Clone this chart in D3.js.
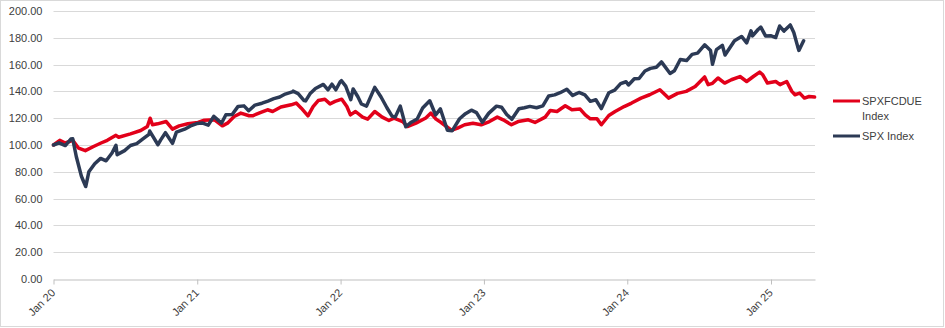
<!DOCTYPE html>
<html>
<head>
<meta charset="utf-8">
<script src="https://cdn.jsdelivr.net/npm/d3@7"></script>
<style>
html,body{margin:0;padding:0;background:#fff;}
svg{display:block;}
text{font-family:"Liberation Sans",Arial,sans-serif;fill:#404040;}
</style>
</head>
<body>
<svg id="chart" width="945" height="328"></svg>
<script>
// ---- data ----
const seriesNames = ["SPXFCDUE Index", "SPX Index"];
const seriesColors = ["#E2001A", "#2C3A55"];
const yTicks = [0, 20, 40, 60, 80, 100, 120, 140, 160, 180, 200];
const xTickYears = [2020, 2021, 2022, 2023, 2024, 2025];

const fcdueDates = [
"2020-01-01","2020-01-17","2020-01-31","2020-02-19","2020-03-05","2020-03-22","2020-04-12","2020-05-01","2020-05-17","2020-06-08",
"2020-06-15","2020-07-15","2020-08-10","2020-08-27","2020-09-03","2020-09-09","2020-09-22","2020-10-14","2020-10-30","2020-11-16",
"2020-12-08","2021-01-03","2021-01-19","2021-02-14","2021-03-06","2021-03-19","2021-04-05","2021-04-22","2021-05-13","2021-05-22",
"2021-06-12","2021-06-29","2021-07-12","2021-08-02","2021-08-28","2021-09-10","2021-09-23","2021-10-10","2021-10-23","2021-11-05",
"2021-11-22","2021-12-05","2021-12-18","2022-01-04","2022-01-17","2022-01-26","2022-02-08","2022-02-26","2022-03-11","2022-03-29",
"2022-04-17","2022-05-04","2022-05-17","2022-06-08","2022-06-20","2022-07-12","2022-08-06","2022-08-19","2022-09-01","2022-09-14",
"2022-10-10","2022-10-26","2022-11-13","2022-12-04","2022-12-25","2023-01-15","2023-02-04","2023-02-19","2023-03-12","2023-03-29",
"2023-04-24","2023-05-11","2023-06-06","2023-06-19","2023-07-06","2023-07-27","2023-08-13","2023-09-03","2023-09-16","2023-09-29",
"2023-10-16","2023-10-27","2023-11-15","2023-12-01","2023-12-24","2024-01-12","2024-02-05","2024-02-27","2024-03-24","2024-04-15",
"2024-05-08","2024-05-30","2024-06-22","2024-07-16","2024-07-25","2024-08-05","2024-08-19","2024-09-05","2024-09-22","2024-10-14",
"2024-10-31","2024-11-17","2024-12-03","2024-12-11","2024-12-23","2025-01-13","2025-01-24","2025-02-10","2025-02-23","2025-03-03",
"2025-03-15","2025-03-27","2025-04-08","2025-04-22"];
const fcdueValues = [
100.0,103.5,101.5,103.5,97.6,95.8,98.9,101.5,103.5,107.2,
105.8,108.3,110.8,113.8,120.0,115.1,115.8,117.5,111.8,114.3,
115.8,116.8,118.5,118.8,114.3,116.3,121.3,123.8,121.8,121.8,
124.3,126.3,125.0,128.3,130.0,131.3,127.5,121.8,128.7,133.2,
134.2,130.7,132.5,134.2,128.7,122.5,125.0,120.8,119.3,125.0,
120.8,118.3,120.1,117.5,113.8,116.3,120.1,123.8,119.3,116.8,
111.0,112.6,115.1,116.3,115.1,117.5,120.8,118.8,115.1,117.5,
118.8,116.8,120.8,125.8,125.0,129.3,126.3,126.8,122.5,119.5,
119.5,115.1,122.0,125.0,128.7,131.3,135.0,137.5,141.2,135.0,
138.5,140.0,143.7,150.8,145.0,146.0,150.0,146.2,148.7,151.1,
147.4,151.1,154.4,152.4,146.2,147.4,145.0,147.4,140.0,137.5,
138.7,135.0,136.2,135.8];

const spxDates = [
"2020-01-01","2020-01-15","2020-01-31","2020-02-14","2020-02-19","2020-02-28","2020-03-12","2020-03-16","2020-03-23","2020-03-31",
"2020-04-15","2020-04-30","2020-05-14","2020-05-29","2020-06-08","2020-06-11","2020-06-30","2020-07-15","2020-07-31","2020-08-14",
"2020-08-31","2020-09-02","2020-09-23","2020-09-30","2020-10-12","2020-10-30","2020-11-09","2020-11-30","2020-12-15","2020-12-31",
"2021-01-15","2021-01-29","2021-02-12","2021-02-26","2021-03-04","2021-03-15","2021-03-31","2021-04-15","2021-04-30","2021-05-12",
"2021-05-28","2021-06-15","2021-06-30","2021-07-15","2021-07-30","2021-08-13","2021-08-31","2021-09-02","2021-09-15","2021-09-30",
"2021-10-04","2021-10-15","2021-10-29","2021-11-18","2021-11-30","2021-12-10","2021-12-20","2021-12-31","2022-01-03","2022-01-14",
"2022-01-27","2022-02-02","2022-02-14","2022-02-23","2022-03-08","2022-03-29","2022-04-14","2022-04-29","2022-05-12","2022-05-20",
"2022-06-02","2022-06-16","2022-06-30","2022-07-15","2022-07-29","2022-08-16","2022-08-31","2022-09-12","2022-09-30","2022-10-12",
"2022-10-31","2022-11-15","2022-11-30","2022-12-13","2022-12-28","2023-01-13","2023-02-02","2023-02-15","2023-02-28","2023-03-13",
"2023-03-31","2023-04-14","2023-04-28","2023-05-15","2023-05-31","2023-06-15","2023-06-30","2023-07-14","2023-07-31","2023-08-15",
"2023-08-31","2023-09-15","2023-09-29","2023-10-13","2023-10-27","2023-11-15","2023-11-30","2023-12-15","2023-12-29","2024-01-04",
"2024-01-19","2024-01-31","2024-02-15","2024-02-29","2024-03-15","2024-03-28","2024-04-19","2024-04-30","2024-05-15","2024-05-31",
"2024-06-14","2024-06-28","2024-07-16","2024-07-31","2024-08-05","2024-08-15","2024-08-30","2024-09-06","2024-09-30","2024-10-18",
"2024-10-31","2024-11-11","2024-11-15","2024-11-29","2024-12-06","2024-12-18","2024-12-31","2025-01-13","2025-01-23","2025-02-03",
"2025-02-19","2025-02-28","2025-03-10","2025-03-13","2025-03-25"];
const spxValues = [
100.0,101.6,99.6,104.4,104.6,91.4,76.8,73.9,69.0,80.0,
86.0,90.0,88.2,94.0,99.8,92.8,95.8,99.6,101.0,104.2,
108.0,110.4,100.2,103.8,109.2,101.2,109.6,111.8,114.2,116.0,
116.4,114.8,121.4,117.8,116.4,122.6,122.8,128.8,129.2,125.6,
129.8,131.2,132.8,134.6,135.8,138.0,139.6,140.2,138.4,133.2,
132.9,138.2,142.2,145.2,141.2,145.4,141.2,147.2,148.0,144.0,
133.8,141.8,136.0,130.6,129.0,143.0,135.8,127.8,121.6,120.8,
129.0,113.6,117.0,119.4,127.6,133.0,122.4,127.0,111.0,110.6,
119.6,123.4,126.0,124.2,117.0,123.6,129.0,128.2,122.8,119.2,
127.0,127.8,128.8,127.8,129.2,136.6,137.4,139.0,141.6,137.0,
139.2,137.4,132.6,133.8,127.2,139.0,141.0,145.8,147.2,144.8,
149.4,149.6,155.2,157.2,158.0,162.0,153.4,155.4,163.8,163.0,
167.6,168.6,174.8,170.6,160.2,171.2,174.4,167.2,177.8,181.0,
176.2,185.2,181.4,186.2,188.0,181.4,181.6,180.2,188.8,185.0,
189.6,184.0,173.4,170.6,177.8];

const axisStart = "2020-01-01";
const axisEnd = "2025-04-23";

// ---- chart ----
const parse = d3.timeParse("%Y-%m-%d");
const svg = d3.select("#chart");
const W = 945, H = 328;
const margin = {left: 53.5, right: 945 - 815, top: 11, bottom: 328 - 279};

svg.append("rect").attr("x", 0.5).attr("y", 0.5).attr("width", 943).attr("height", 326)
  .attr("fill", "#fff").attr("stroke", "#d9d9d9").attr("stroke-width", 1);

const x = d3.scaleTime().domain([parse(axisStart), parse(axisEnd)]).range([margin.left, W - margin.right]);
const y = d3.scaleLinear().domain([0, 200]).range([H - margin.bottom, margin.top]);

// gridlines
const grid = svg.append("g");
grid.selectAll("line").data(yTicks.filter(d => d > 0)).enter().append("line")
  .attr("x1", x.range()[0]).attr("x2", x.range()[1])
  .attr("y1", d => Math.round(y(d)) + 0.5).attr("y2", d => Math.round(y(d)) + 0.5)
  .attr("stroke", "#d9d9d9").attr("stroke-width", 1);

// y axis labels
const yAxis = d3.axisLeft(y).tickValues(yTicks).tickSize(0).tickPadding(11).tickFormat(d3.format(".2f"));
const yg = svg.append("g").attr("transform", `translate(${margin.left},0)`).call(yAxis);
yg.select(".domain").remove();
yg.selectAll("text").style("font-size", "11px").style("font-family", "'Liberation Sans',Arial,sans-serif").attr("fill", "#404040");

// x axis
const xTickDates = xTickYears.map(yr => new Date(yr, 0, 1));
const xAxis = d3.axisBottom(x).tickValues(xTickDates).tickSize(5).tickSizeOuter(0)
  .tickFormat(d3.timeFormat("Jan %y"));
const xg = svg.append("g").attr("transform", `translate(0,${Math.round(y(0)) + 0.5})`).call(xAxis);
xg.select(".domain").attr("stroke", "#bfbfbf");
xg.selectAll(".tick line").attr("stroke", "#bfbfbf");
xg.selectAll("text")
  .style("font-size", "11px").style("font-family", "'Liberation Sans',Arial,sans-serif").attr("fill", "#404040")
  .attr("text-anchor", "end").attr("dy", null).attr("y", 0)
  .attr("transform", "translate(2,14) rotate(-45)");

// lines
const line = d3.line().x(d => x(d.date)).y(d => y(d.value)).curve(d3.curveLinear);
const fcdue = fcdueDates.map((d, i) => ({date: parse(d), value: fcdueValues[i]}));
const spx = spxDates.map((d, i) => ({date: parse(d), value: spxValues[i]}));

svg.append("path").datum(fcdue).attr("d", line).attr("fill", "none")
  .attr("stroke", seriesColors[0]).attr("stroke-width", 3.5).attr("stroke-linejoin", "round").attr("stroke-linecap", "round");
svg.append("path").datum(spx).attr("d", line).attr("fill", "none")
  .attr("stroke", seriesColors[1]).attr("stroke-width", 3.5).attr("stroke-linejoin", "round").attr("stroke-linecap", "round");

// legend
const leg = svg.append("g").attr("transform", "translate(833,0)");
const legItems = [
  {lines: ["SPXFCDUE", "Index"], y: 101, color: seriesColors[0]},
  {lines: ["SPX Index"], y: 136, color: seriesColors[1]}
];
legItems.forEach(it => {
  leg.append("line").attr("x1", 0).attr("x2", 27).attr("y1", it.y).attr("y2", it.y)
    .attr("stroke", it.color).attr("stroke-width", 3);
  it.lines.forEach((t, j) => {
    leg.append("text").attr("x", 29).attr("y", it.y + j * 15.5).attr("dy", "0.35em")
      .style("font-size", "11px").text(t);
  });
});
</script>
</body>
</html>
